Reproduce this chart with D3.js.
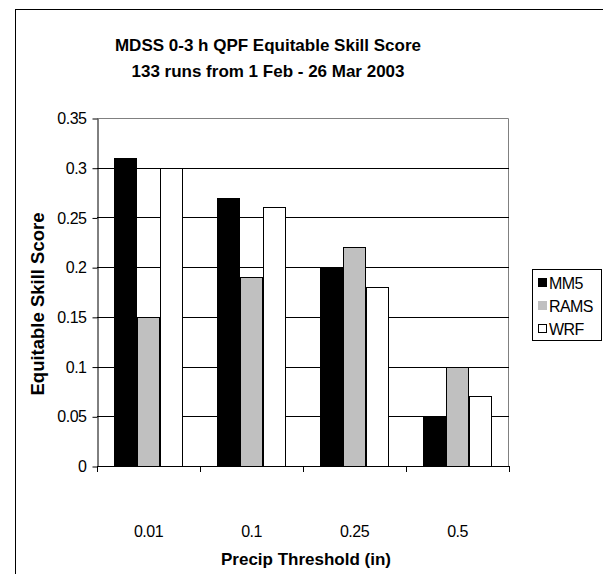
<!DOCTYPE html>
<html><head><meta charset="utf-8">
<script src="https://cdn.jsdelivr.net/npm/d3@7"></script>
<style>body{margin:0;background:#fff}svg{display:block;font-family:"Liberation Sans",Arial,sans-serif}</style>
</head><body>
<script>
const categories = ["0.01", "0.1", "0.25", "0.5"];
const seriesNames = ["MM5", "RAMS", "WRF"];
const MM5 = [0.31, 0.27, 0.20, 0.05];
const RAMS = [0.15, 0.19, 0.22, 0.10];
const WRF = [0.30, 0.26, 0.18, 0.07];
const yTicks = [0, 0.05, 0.1, 0.15, 0.2, 0.25, 0.3, 0.35];
const colors = ["#000000", "#c0c0c0", "#ffffff"];
const series = [MM5, RAMS, WRF];

const W = 603, H = 574;
const svg = d3.select("body").append("svg").attr("width", W).attr("height", H);
svg.append("rect").attr("x", 15.5).attr("y", 9.5).attr("width", 620).attr("height", 600)
  .attr("fill", "#fff").attr("stroke", "#000");

const L = 97, R = 509, T = 118, B = 466;
const x0 = d3.scaleBand().domain(categories).range([L, R]).paddingInner(0).paddingOuter(0);
const y = d3.scaleLinear().domain([0, 0.35]).range([B, T]);
const bw = x0.bandwidth() * 23 / 103;
const off = (x0.bandwidth() - 3 * bw) / 2;

// plot area border (gray top/right)
svg.append("path").attr("d", `M${L},${T+0.5}H${R-0.5}V${B}`).attr("fill", "none").attr("stroke", "#808080");

// gridlines
svg.append("g").selectAll("line").data(yTicks.filter(d => d > 0 && d < 0.35)).join("line")
  .attr("x1", L).attr("x2", R).attr("y1", d => Math.round(y(d)) + 0.5).attr("y2", d => Math.round(y(d)) + 0.5)
  .attr("stroke", "#000");

// bars
series.forEach((vals, si) => {
  svg.append("g").selectAll("rect").data(vals).join("rect")
    .attr("x", (d, i) => x0(categories[i]) + off + si * bw + 0.5)
    .attr("y", d => Math.round(y(d)) + 0.5)
    .attr("width", bw - 1)
    .attr("height", d => Math.round(B - y(d)))
    .attr("fill", colors[si]).attr("stroke", "#000").attr("stroke-width", 1);
});

// y axis
const ya = d3.axisLeft(y).tickValues(yTicks).tickFormat(d => d3.format("")(d)).tickSize(5).tickSizeOuter(0);
const gy = svg.append("g").attr("transform", `translate(${L + 0.5},0.5)`).call(ya);
gy.selectAll("text").attr("font-size", 16).attr("letter-spacing", -0.5).attr("fill", "#000").attr("x", -11);
gy.select(".domain").attr("stroke", "#000");
gy.selectAll(".tick line").attr("stroke", "#000");

// x axis
const xa = d3.axisBottom(x0).tickSize(0).tickSizeOuter(0);
const gx = svg.append("g").attr("transform", `translate(0,${B + 0.5})`).call(xa);
gx.selectAll("text").attr("font-size", 16).attr("letter-spacing", -0.5).attr("fill", "#000")
  .attr("dy", null).attr("y", 70);
gx.select(".domain").attr("stroke", "#000").attr("d", `M${L},0H${R}`);
const xt = categories.map(c => x0(c)).concat([R]);
svg.append("g").selectAll("line").data(xt).join("line")
  .attr("x1", d => Math.round(d) + 0.5).attr("x2", d => Math.round(d) + 0.5)
  .attr("y1", B).attr("y2", B + 6).attr("stroke", "#000");

// titles
svg.append("text").attr("x", 268).attr("y", 51).attr("text-anchor", "middle")
  .attr("font-size", 17).attr("font-weight", "bold")
  .text("MDSS 0-3 h QPF Equitable Skill Score");
svg.append("text").attr("x", 268).attr("y", 77).attr("text-anchor", "middle")
  .attr("font-size", 17).attr("font-weight", "bold")
  .text("133 runs from 1 Feb - 26 Mar 2003");
svg.append("text").attr("x", 306).attr("y", 565).attr("text-anchor", "middle")
  .attr("font-size", 17).attr("font-weight", "bold").text("Precip Threshold (in)");
svg.append("text").attr("transform", `translate(44,304) rotate(-90)`).attr("text-anchor", "middle")
  .attr("font-size", 18.5).attr("font-weight", "bold").text("Equitable Skill Score");

// legend
const lg = svg.append("g");
lg.append("rect").attr("x", 532.5).attr("y", 269.5).attr("width", 69).attr("height", 71)
  .attr("fill", "#fff").attr("stroke", "#000");
seriesNames.forEach((n, i) => {
  const yy = 283 + i * 23;
  lg.append("rect").attr("x", 538.5).attr("y", yy - 4.5).attr("width", 8).attr("height", 8)
    .attr("fill", colors[i]).attr("stroke", i === 1 ? colors[i] : "#000");
  lg.append("text").attr("x", 549).attr("y", yy + 6).attr("font-size", 16).attr("letter-spacing", -0.6).text(n);
});
</script>
</body></html>
